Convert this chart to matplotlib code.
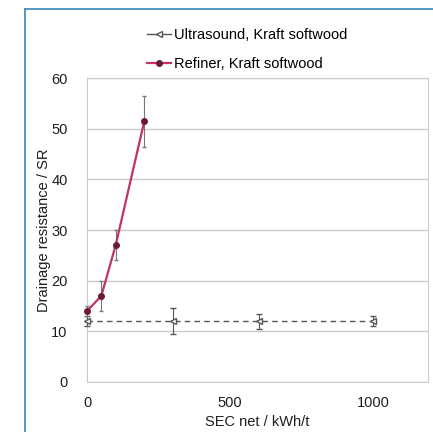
import matplotlib
matplotlib.use("Agg")
import matplotlib.pyplot as plt
from matplotlib.lines import Line2D

plt.rcParams['font.family'] = ['Liberation Sans', 'DejaVu Sans']

# dados
us_x = [0, 300, 600, 1000]
us_y = [12, 12, 12, 12]
us_err = [1.0, 2.5, 1.5, 1.0]

ref_x = [0, 50, 100, 200]
ref_y = [14, 17, 27, 51.5]
ref_err = [1.0, 3.0, 3.0, 5.0]

xticks = [0, 500, 1000]
yticks = [0, 10, 20, 30, 40, 50, 60]

fs = 10.5
cor_txt = '#1e1e1e'
cor_us = '#555555'
cor_ref = '#c0345f'
cor_mk = '#6a1a38'

fig = plt.figure(figsize=(4.33, 4.32), dpi=100)
ax = fig.add_axes([0.201, 0.116, 0.787, 0.703])

ax.errorbar(us_x, us_y, yerr=us_err, color=cor_us, linestyle=(0, (4, 3)),
            linewidth=1.0, marker='<', markersize=5, markerfacecolor='white',
            markeredgecolor=cor_us, elinewidth=0.8, capsize=2,
            zorder=3, clip_on=False)
ax.errorbar(ref_x, ref_y, yerr=ref_err, color=cor_ref, linewidth=1.6,
            marker='o', markersize=4, markerfacecolor=cor_mk,
            markeredgecolor=cor_mk, ecolor='#777777', elinewidth=0.8,
            capsize=1.5, zorder=4, clip_on=False)

ax.set_xlim(0, 1190)
ax.set_ylim(0, 60)
ax.set_xticks(xticks)
ax.set_yticks(yticks)
ax.yaxis.grid(True, color='#cccccc', linewidth=1.0)
ax.set_axisbelow(True)
for s in ax.spines.values():
    s.set_color('#cccccc')
ax.tick_params(axis='y', length=0, labelsize=fs, colors=cor_txt, pad=14)
ax.tick_params(axis='x', length=0, labelsize=fs, colors=cor_txt, pad=10)
ax.set_xlabel('SEC net / kWh/t', fontsize=fs, color=cor_txt, labelpad=4)
ax.set_ylabel('Drainage resistance / SR', fontsize=fs, color=cor_txt, labelpad=0)

# legenda sem barras de erro
h_us = Line2D([], [], color=cor_us, linewidth=1.0, marker='<', markersize=5,
              markerfacecolor='white', markeredgecolor=cor_us)
h_ref = Line2D([], [], color=cor_ref, linewidth=1.6, marker='o', markersize=4,
               markerfacecolor=cor_mk, markeredgecolor=cor_mk)
fig.legend([h_us, h_ref], ['Ultrasound, Kraft softwood', 'Refiner, Kraft softwood'],
           loc='center left', bbox_to_anchor=(0.310, 0.885), frameon=False,
           fontsize=fs, handlelength=1.6, labelspacing=1.0, handletextpad=0.2)

# moldura azul
fig.add_artist(Line2D([0.058, 1.0], [0.979, 0.979], color='#3a87b8', linewidth=1.2))
fig.add_artist(Line2D([0.058, 0.058], [0.0, 0.979], color='#3a87b8', linewidth=1.2))

fig.savefig('out.png', dpi=100)
